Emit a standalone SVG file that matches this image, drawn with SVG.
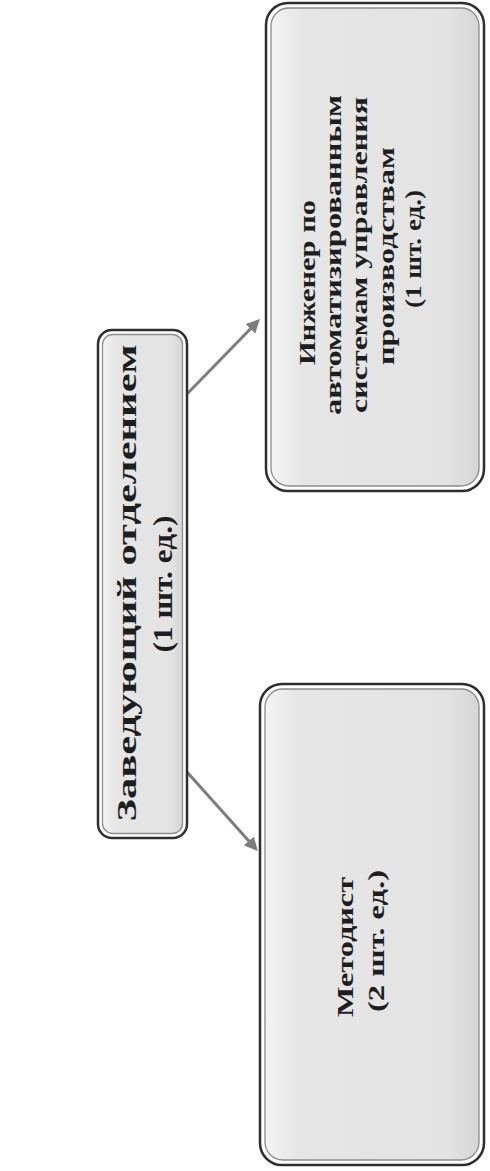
<svg xmlns="http://www.w3.org/2000/svg" width="490" height="1171" viewBox="0 0 490 1171">
<style>
.outer{fill:none;stroke:#2e2e2e;stroke-width:2.5}
.inner{fill:url(#g);stroke:#8c8c8c;stroke-width:1.3}
.t{font-family:"Liberation Serif","Times New Roman",serif;font-weight:bold;fill:#1e1e1e;text-anchor:middle}
.c{stroke:#7d7d7d;stroke-width:3;fill:none}
</style>
<defs>
<linearGradient id="g" x1="0" y1="0" x2="1" y2="0">
<stop offset="0" stop-color="#f4f4f4"/>
<stop offset="0.15" stop-color="#e6e6e6"/>
<stop offset="0.85" stop-color="#e3e3e3"/>
<stop offset="1" stop-color="#d6d6d6"/>
</linearGradient>
<marker id="ah" viewBox="0 0 10 10" refX="8" refY="5" markerWidth="4.5" markerHeight="4.5" orient="auto" markerUnits="strokeWidth">
<path d="M0,0 L10,5 L0,10 z" fill="#7d7d7d"/>
</marker>
</defs>
<rect width="490" height="1171" fill="#ffffff"/>
<g id="connectors">
<line class="c" x1="187" y1="394" x2="258" y2="321" marker-end="url(#ah)"/>
<line class="c" x1="187" y1="772" x2="256" y2="849" marker-end="url(#ah)"/>
</g>
<g id="head">
<rect class="inner" x="102.5" y="334.5" width="80" height="499" rx="10"/>
<rect class="outer" x="98" y="330" width="89" height="508" rx="14"/>
<text class="t" font-size="28" transform="translate(136,583) rotate(-90)" textLength="477" lengthAdjust="spacingAndGlyphs">Заведующий отделением</text>
<text class="t" font-size="28" transform="translate(172,584) rotate(-90)" textLength="137" lengthAdjust="spacingAndGlyphs">(1 шт. ед.)</text>
</g>
<g id="engineer">
<rect class="inner" x="271" y="8" width="208" height="478" rx="18"/>
<rect class="outer" x="266" y="3" width="218" height="488" rx="22"/>
<text class="t" font-size="24" transform="translate(314.5,282.5) rotate(-90)" textLength="165" lengthAdjust="spacingAndGlyphs">Инженер по</text>
<text class="t" font-size="24" transform="translate(340.5,255) rotate(-90)" textLength="320" lengthAdjust="spacingAndGlyphs">автоматизированным</text>
<text class="t" font-size="24" transform="translate(366.5,255) rotate(-90)" textLength="316" lengthAdjust="spacingAndGlyphs">системам управления</text>
<text class="t" font-size="24" transform="translate(393.5,256) rotate(-90)" textLength="218" lengthAdjust="spacingAndGlyphs">производствам</text>
<text class="t" font-size="24" transform="translate(420.5,249) rotate(-90)" textLength="118" lengthAdjust="spacingAndGlyphs">(1 шт. ед.)</text>
</g>
<g id="methodist">
<rect class="inner" x="265" y="689" width="214" height="471" rx="18"/>
<rect class="outer" x="260" y="684" width="224" height="481" rx="22"/>
<text class="t" font-size="24" transform="translate(352.5,947) rotate(-90)" textLength="140" lengthAdjust="spacingAndGlyphs">Методист</text>
<text class="t" font-size="24" transform="translate(383.5,941) rotate(-90)" textLength="142" lengthAdjust="spacingAndGlyphs">(2 шт. ед.)</text>
</g>
</svg>
